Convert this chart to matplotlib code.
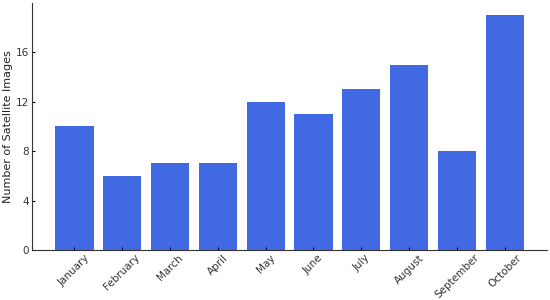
import matplotlib.pyplot as plt

months = ['January', 'February', 'March', 'April', 'May', 'June',
          'July', 'August', 'September', 'October']
images = [10, 6, 7, 7, 12, 11, 13, 15, 8, 19]

fig, ax = plt.subplots(figsize=(5.5, 3), dpi=100)
ax.bar(months, images, color='#4169E1', width=0.8)
ax.set_ylabel('Number of Satellite Images', fontsize=8, color='#222222', labelpad=2)
ax.set_yticks([0, 4, 8, 12, 16])
ax.set_ylim(0, 20)
ax.tick_params(direction='in', labelsize=7.5, labelcolor='#333333', length=2.5, pad=2)
plt.setp(ax.get_xticklabels(), rotation=45, ha='center')
ax.spines['top'].set_visible(False)
ax.spines['right'].set_visible(False)
for s in ('left', 'bottom'):
    ax.spines[s].set_color('#333333')

fig.subplots_adjust(left=0.058, right=0.995, top=0.99, bottom=0.167)
fig.savefig('out.png')
